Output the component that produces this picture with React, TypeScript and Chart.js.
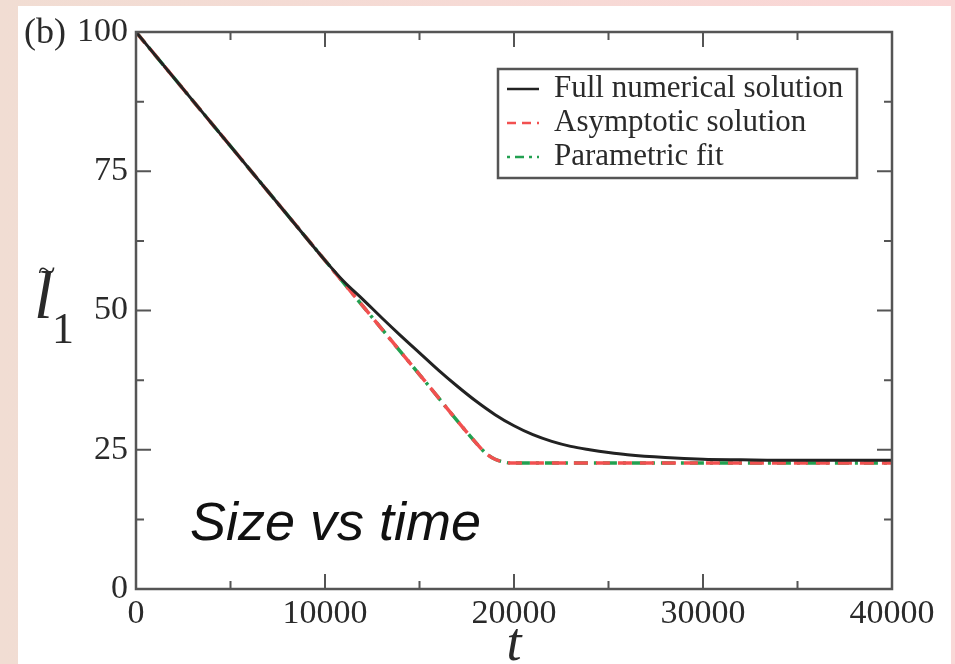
import React, { useEffect, useRef } from "react";
import { Chart, registerables } from "chart.js";

Chart.register(...registerables);

// ---- data ----
const numericalT = [0, 4000, 8000, 10000, 11000, 12000, 13000, 14000, 15000, 16000, 17000, 18000, 19000, 20000, 21000, 22000, 23000, 24000, 25000, 26000, 28000, 30000, 32000, 35000, 40000];
const numericalL = [100, 83.6, 67.2, 59.0, 55.2, 52.0, 48.7, 45.5, 42.4, 39.3, 36.4, 33.7, 31.3, 29.3, 27.7, 26.5, 25.6, 25.0, 24.5, 24.1, 23.6, 23.3, 23.2, 23.1, 23.1];

const asymptoticT = [0, 5000, 10000, 15000, 18000, 18500, 19000, 19600, 20000, 25000, 30000, 35000, 40000];
const asymptoticL = [100, 79.5, 59.0, 38.5, 26.2, 24.4, 23.3, 22.7, 22.6, 22.6, 22.6, 22.6, 22.6];

const fitT = [0, 5000, 10000, 15000, 18000, 18500, 19000, 19600, 20000, 25000, 30000, 35000, 40000];
const fitL = [100, 79.5, 59.0, 38.5, 26.2, 24.4, 23.3, 22.7, 22.6, 22.6, 22.6, 22.6, 22.6];

const seriesLabels = ["Full numerical solution", "Asymptotic solution", "Parametric fit"];
const yMajorTicks = [0, 25, 50, 75, 100];
const xMajorTicks = [0, 10000, 20000, 30000, 40000];

const SERIF = "'Liberation Serif', 'DejaVu Serif', serif";
const TEXT = "#2a2a2a";
const FRAME = "#555555";

const toXY = (xs: number[], ys: number[]) => xs.map((x, i) => ({ x, y: ys[i] }));

const decorPlugin = {
  id: "decor",
  afterDraw(chart: any) {
    const ctx = chart.ctx as CanvasRenderingContext2D;
    const { left, right, top, bottom } = chart.chartArea;
    const xs = chart.scales.x;
    const ys = chart.scales.y;
    ctx.save();
    // frame
    ctx.strokeStyle = FRAME;
    ctx.lineWidth = 2.5;
    ctx.strokeRect(left, top, right - left, bottom - top);
    // ticks
    ctx.lineWidth = 2;
    const yMinor = yMajorTicks.slice(1).map((v, i) => (v + yMajorTicks[i]) / 2);
    const xMinor = xMajorTicks.slice(1).map((v, i) => (v + xMajorTicks[i]) / 2);
    const tickY = (v: number, len: number) => {
      const p = ys.getPixelForValue(v);
      ctx.beginPath();
      ctx.moveTo(left, p); ctx.lineTo(left + len, p);
      ctx.moveTo(right, p); ctx.lineTo(right - len, p);
      ctx.stroke();
    };
    const tickX = (v: number, len: number) => {
      const p = xs.getPixelForValue(v);
      ctx.beginPath();
      ctx.moveTo(p, bottom); ctx.lineTo(p, bottom - len);
      ctx.moveTo(p, top); ctx.lineTo(p, top + len);
      ctx.stroke();
    };
    yMajorTicks.forEach((v) => tickY(v, 15));
    yMinor.forEach((v) => tickY(v, 8));
    xMajorTicks.forEach((v) => tickX(v, 15));
    xMinor.forEach((v) => tickX(v, 8));

    // legend
    const bx = 498, by = 69, bw = 359, bh = 109;
    ctx.fillStyle = "#ffffff";
    ctx.fillRect(bx, by, bw, bh);
    ctx.strokeStyle = FRAME;
    ctx.lineWidth = 2.5;
    ctx.strokeRect(bx, by, bw, bh);
    const rows = [89, 123, 157];
    chart.data.datasets.forEach((ds: any, i: number) => {
      const yy = rows[i];
      ctx.save();
      ctx.strokeStyle = ds.borderColor;
      ctx.lineWidth = 2.5;
      ctx.setLineDash(ds.legendDash || []);
      ctx.beginPath();
      ctx.moveTo(507, yy);
      ctx.lineTo(539, yy);
      ctx.stroke();
      ctx.restore();
      ctx.fillStyle = TEXT;
      ctx.font = `31px ${SERIF}`;
      ctx.textBaseline = "middle";
      ctx.textAlign = "left";
      ctx.fillText(ds.label, 554, yy);
    });

    // panel label
    ctx.fillStyle = TEXT;
    ctx.font = `36px ${SERIF}`;
    ctx.textBaseline = "middle";
    ctx.textAlign = "left";
    ctx.fillText("(b)", 24, 34);

    // y title: l-tilde with subscript 1
    ctx.font = `italic 68px ${SERIF}`;
    ctx.textBaseline = "alphabetic";
    ctx.fillText("l", 34, 318);
    ctx.font = `32px ${SERIF}`;
    ctx.fillText("~", 38, 281);
    ctx.font = `44px ${SERIF}`;
    ctx.fillText("1", 52, 343);

    // x title
    ctx.font = `italic 54px ${SERIF}`;
    ctx.textAlign = "center";
    ctx.fillText("t", (left + right) / 2, 660);

    // annotation
    ctx.fillStyle = "#111111";
    ctx.font = "italic 54px 'Liberation Sans', Arial, sans-serif";
    ctx.textAlign = "left";
    ctx.fillText("Size vs time", 190, 540);
    ctx.restore();
  },
};

export default function App() {
  const ref = useRef<HTMLCanvasElement | null>(null);
  useEffect(() => {
    document.body.style.margin = "0";
    if (!ref.current) return;
    const chart = new Chart(ref.current, {
      type: "line",
      data: {
        datasets: [
          {
            label: seriesLabels[0],
            data: toXY(numericalT, numericalL),
            borderColor: "#222222",
            borderWidth: 3,
            pointRadius: 0,
            cubicInterpolationMode: "monotone",
            fill: false,
          } as any,
          {
            label: seriesLabels[1],
            data: toXY(asymptoticT, asymptoticL),
            borderColor: "#f25050",
            borderWidth: 3.5,
            borderDash: [14, 8],
            legendDash: [9, 6],
            pointRadius: 0,
            cubicInterpolationMode: "monotone",
            fill: false,
          } as any,
          {
            label: seriesLabels[2],
            data: toXY(fitT, fitL),
            borderColor: "#22a050",
            borderWidth: 3.5,
            borderDash: [14, 6, 3, 6],
            legendDash: [3, 5, 9, 5],
            pointRadius: 0,
            cubicInterpolationMode: "monotone",
            fill: false,
          } as any,
        ],
      },
      options: {
        animation: false,
        responsive: false,
        maintainAspectRatio: false,
        layout: { padding: { left: 0, top: 32, right: 63, bottom: 0 } },
        plugins: { legend: { display: false }, tooltip: { enabled: false } },
        scales: {
          x: {
            type: "linear",
            min: 0,
            max: 40000,
            afterFit: (s: any) => { s.height = 75; },
            afterBuildTicks: (s: any) => { s.ticks = xMajorTicks.map((v) => ({ value: v })); },
            ticks: {
              color: TEXT,
              font: { family: SERIF, size: 34 },
              padding: 5,
              maxRotation: 0,
              autoSkip: false,
              callback: (v: any) => String(v),
            },
            grid: { display: false, drawTicks: false },
            border: { display: false },
          },
          y: {
            type: "linear",
            min: 0,
            max: 100,
            afterFit: (s: any) => { s.width = 136; },
            afterBuildTicks: (s: any) => { s.ticks = yMajorTicks.map((v) => ({ value: v })); },
            ticks: {
              color: TEXT,
              font: { family: SERIF, size: 34 },
              padding: 8,
              autoSkip: false,
              callback: (v: any) => String(v),
            },
            grid: { display: false, drawTicks: false },
            border: { display: false },
          },
        },
      },
      plugins: [decorPlugin],
    } as any);
    return () => chart.destroy();
  }, []);

  return (
    <div
      style={{
        position: "relative",
        width: 955,
        height: 664,
        overflow: "hidden",
        background: "linear-gradient(to right, #f1ddd3, #f6dad5 50%, #fad6d6)",
      }}
    >
      <div style={{ position: "absolute", left: 18, top: 6, width: 933, height: 658, background: "#ffffff" }} />
      <canvas ref={ref} width={955} height={664} style={{ position: "absolute", left: 0, top: 0, width: 955, height: 664 }} />
    </div>
  );
}
